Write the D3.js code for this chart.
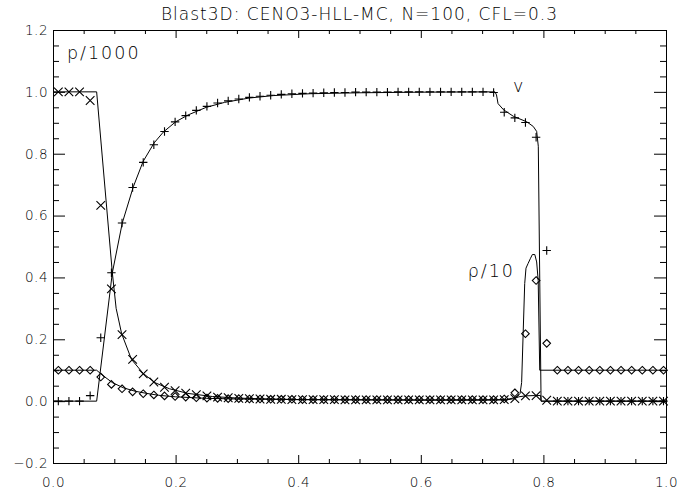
<!DOCTYPE html>
<html><head><meta charset="utf-8">
<script src="https://cdn.jsdelivr.net/npm/d3@7"></script>
<style>body{margin:0;background:#fff}svg{display:block}</style>
</head><body>
<svg id="c" width="694" height="491"></svg>
<script>
// ---- data ----
const title = "Blast3D: CENO3-HLL-MC, N=100, CFL=0.3";
const xTicks = [0, 0.2, 0.4, 0.6, 0.8, 1.0];
const yTicks = [-0.2, 0, 0.2, 0.4, 0.6, 0.8, 1.0, 1.2];

// cell positions (numerical solution)
const cellX = [0.0087,0.0260,0.0433,0.0606,0.0779,0.0953,0.1126,0.1299,0.1472,0.1645,
  0.1819,0.1992,0.2165,0.2338,0.2511,0.2685,0.2858,0.3031,0.3204,0.3377,
  0.3551,0.3724,0.3897,0.4070,0.4243,0.4417,0.4590,0.4763,0.4936,0.5109,
  0.5283,0.5456,0.5629,0.5802,0.5975,0.6149,0.6322,0.6495,0.6668,0.6841,
  0.7015,0.7188,0.7361,0.7534,0.7707,0.7881,0.8054,0.8227,0.8400,0.8573,
  0.8747,0.8920,0.9093,0.9266,0.9439,0.9613,0.9786,0.9959];
// p/1000 (x markers)
const pCells = [1.0,1.0,1.0,0.972,0.633,0.363,0.215,0.135,0.088,0.062,
  0.045,0.034,0.026,0.021,0.017,0.013,0.011,0.009,0.008,0.007,
  0.006,0.006,0.005,0.005,0.005,0.005,0.005,0.004,0.004,0.004,
  0.004,0.004,0.004,0.004,0.004,0.004,0.004,0.004,0.004,0.004,
  0.004,0.004,0.005,0.008,0.017,0.018,0.003,0,0,0,
  0,0,0,0,0,0,0,0];
// v (+ markers)
const vCells = [0,0,0,0.018,0.205,0.415,0.576,0.691,0.772,0.829,
  0.872,0.903,0.923,0.940,0.953,0.964,0.971,0.977,0.982,0.986,
  0.989,0.992,0.994,0.995,0.996,0.997,0.998,0.998,0.999,0.999,
  0.999,0.999,1.0,1.0,1.0,1.0,1.0,1.0,1.0,1.0,
  1.0,0.998,0.934,0.916,0.901,0.853,0.487,0,0,0,
  0,0,0,0,0,0,0,0];
// rho/10 (diamond markers)
const rhoCells = [0.1,0.1,0.1,0.1,0.078,0.054,0.040,0.030,0.024,0.020,
  0.017,0.015,0.013,0.011,0.010,0.009,0.008,0.008,0.007,0.007,
  0.006,0.006,0.006,0.005,0.005,0.005,0.005,0.005,0.005,0.005,
  0.005,0.005,0.005,0.005,0.005,0.005,0.005,0.005,0.005,0.005,
  0.005,0.005,0.007,0.027,0.218,0.390,0.187,0.1,0.1,0.1,
  0.1,0.1,0.1,0.1,0.1,0.1,0.1,0.1];

// reference solution curves
const pRefX = [0,0.0712,0.0968,0.103,0.112,0.128,0.147,0.166,0.19,0.22,0.26,0.30,0.35,0.40,0.50,0.60,0.70,0.74,0.752,0.76,0.77,0.785,0.7955,0.7962,1.0];
const pRefY = [1,1,0.415,0.30,0.218,0.135,0.09,0.06,0.04,0.025,0.015,0.01,0.007,0.005,0.004,0.003,0.003,0.004,0.008,0.014,0.017,0.018,0.018,0,0];
const vRefX = [0,0.0712,0.0968,0.113,0.131,0.147,0.165,0.18,0.20,0.22,0.25,0.28,0.32,0.36,0.42,0.50,0.60,0.721,0.7235,0.726,0.735,0.751,0.773,0.7835,0.789,0.7917,0.7962,1.0];
const vRefY = [0,0,0.415,0.576,0.693,0.775,0.835,0.87,0.903,0.925,0.95,0.966,0.98,0.988,0.994,0.997,0.999,1.0,0.99,0.962,0.942,0.921,0.903,0.888,0.872,0.824,0,0];
const rhoRefX = [0,0.0712,0.08,0.0968,0.115,0.134,0.153,0.172,0.20,0.25,0.30,0.40,0.60,0.74,0.75,0.757,0.762,0.7645,0.767,0.7695,0.7716,0.775,0.779,0.782,0.786,0.789,0.7915,0.794,1.0];
const rhoRefY = [0.1,0.1,0.085,0.06,0.043,0.032,0.025,0.019,0.014,0.009,0.007,0.005,0.004,0.005,0.01,0.015,0.025,0.06,0.22,0.38,0.43,0.445,0.462,0.474,0.474,0.45,0.39,0.1,0.1];

const labels = [
  {text:"p/1000", x:0.0228, y:1.105, anchor:"start"},
  {text:"v", x:0.7505, y:1.0, anchor:"start"},
  {text:"\u03c1/10", x:0.7537, y:0.4, anchor:"end"}
];

// ---- drawing ----
const svg = d3.select("#c");
const m = {l:53, r:666, t:30, b:463};
const x = d3.scaleLinear().domain([0,1]).range([m.l, m.r]);
const y = d3.scaleLinear().domain([-0.2,1.2]).range([m.b, m.t]);
const FONT = "'DejaVu Sans', 'Liberation Sans', sans-serif";
const WEIGHT = 200;

const xMinor = d3.range(0, 1.0001, 0.05).map(v=>+v.toFixed(2)).filter(v=>!xTicks.some(t=>Math.abs(t-v)<1e-6));
const yMinor = d3.range(-0.2, 1.2001, 0.05).map(v=>+v.toFixed(2)).filter(v=>!yTicks.some(t=>Math.abs(t-v)<1e-6));
const fmt = d3.format(".1f");

function styleAxis(g){
  g.selectAll("path.domain").attr("stroke","#000").attr("stroke-width",1);
  g.selectAll(".tick line").attr("stroke","#000").attr("stroke-width",1);
  g.selectAll("text").attr("font-family",FONT).attr("font-weight",WEIGHT).attr("font-size",13.5).attr("fill","#000").attr("letter-spacing","0.5px");
}
// bottom
svg.append("g").attr("transform",`translate(0,${m.b})`)
  .call(d3.axisBottom(x).tickValues(xTicks).tickSize(-8).tickSizeOuter(0).tickPadding(14).tickFormat(fmt)).call(styleAxis);
svg.append("g").attr("transform",`translate(0,${m.b})`)
  .call(d3.axisBottom(x).tickValues(xMinor).tickSize(-4).tickSizeOuter(0).tickFormat("")).call(styleAxis);
// top
svg.append("g").attr("transform",`translate(0,${m.t})`)
  .call(d3.axisTop(x).tickValues(xTicks).tickSize(-8).tickSizeOuter(0).tickFormat("")).call(styleAxis);
svg.append("g").attr("transform",`translate(0,${m.t})`)
  .call(d3.axisTop(x).tickValues(xMinor).tickSize(-4).tickSizeOuter(0).tickFormat("")).call(styleAxis);
// left
svg.append("g").attr("transform",`translate(${m.l},0)`)
  .call(d3.axisLeft(y).tickValues(yTicks).tickSize(-12).tickSizeOuter(0).tickPadding(5).tickFormat(fmt)).call(styleAxis);
svg.append("g").attr("transform",`translate(${m.l},0)`)
  .call(d3.axisLeft(y).tickValues(yMinor).tickSize(-6).tickSizeOuter(0).tickFormat("")).call(styleAxis);
// right
svg.append("g").attr("transform",`translate(${m.r},0)`)
  .call(d3.axisRight(y).tickValues(yTicks).tickSize(-12).tickSizeOuter(0).tickFormat("")).call(styleAxis);
svg.append("g").attr("transform",`translate(${m.r},0)`)
  .call(d3.axisRight(y).tickValues(yMinor).tickSize(-6).tickSizeOuter(0).tickFormat("")).call(styleAxis);

// title
svg.append("text").attr("x",(m.l+m.r)/2).attr("y",20).attr("text-anchor","middle")
  .attr("font-family",FONT).attr("font-weight",WEIGHT).attr("font-size",17).attr("letter-spacing","1px").attr("fill","#000").text(title);

// reference curves
const line = d3.line().x(d=>x(d[0])).y(d=>y(d[1]));
const curves = [[pRefX,pRefY],[vRefX,vRefY],[rhoRefX,rhoRefY]];
const plot = svg.append("g");
curves.forEach(([xs,ys])=>{
  plot.append("path").datum(xs.map((v,i)=>[v,ys[i]]))
    .attr("d",line).attr("fill","none").attr("stroke","#000").attr("stroke-width",1);
});

// markers
const crossPath = s => `M${-s},${-s}L${s},${s}M${-s},${s}L${s},${-s}`;
const plusPath = s => `M${-s},0L${s},0M0,${-s}L0,${s}`;
const diamondPath = s => `M0,${-s}L${s},0L0,${s}L${-s},0Z`;
const series = [
  {vals:rhoCells, path:diamondPath(3.8)},
  {vals:pCells, path:crossPath(4.3)},
  {vals:vCells, path:plusPath(4.2)}
];
series.forEach(sr=>{
  plot.append("g").selectAll("path").data(cellX.map((v,i)=>[v,sr.vals[i]])).join("path")
    .attr("transform",d=>`translate(${x(d[0])},${y(d[1])})`)
    .attr("d",sr.path).attr("fill","none").attr("stroke","#000").attr("stroke-width",1.1);
});

// curve labels
svg.append("g").selectAll("text").data(labels).join("text")
  .attr("x",d=>x(d.x)).attr("y",d=>y(d.y)).attr("text-anchor",d=>d.anchor)
  .attr("font-family",FONT).attr("font-weight",WEIGHT).attr("font-size",17.5).attr("letter-spacing","2px").attr("fill","#000")
  .text(d=>d.text);
</script>
</body></html>
